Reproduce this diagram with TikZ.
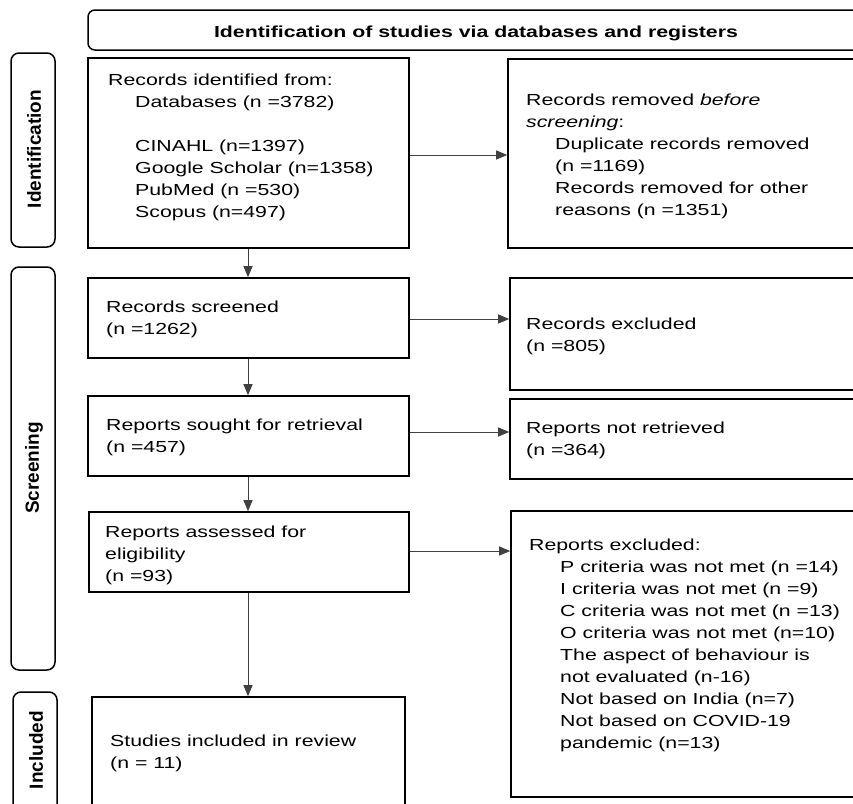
\documentclass[tikz,border=0pt]{standalone}
\usepackage{fontspec}
\setmainfont{Liberation Sans}[FakeStretch=1.33]
\newfontfamily\sidefont{Liberation Sans}
\usetikzlibrary{arrows.meta,fit}
\begin{document}
\begin{tikzpicture}[x=1pt,y=-1pt,
  box/.style={draw=black, line width=1.6pt, rectangle, inner sep=0pt},
  lab/.style={draw=black, line width=1.5pt, rounded corners=8pt, inner sep=0pt},
  txt/.style={anchor=base west, align=left, inner sep=0pt, font=\fontsize{16}{22}\selectfont},
  sidetxt/.style={rotate=90, inner sep=0pt, font=\sidefont\bfseries\fontsize{19}{22}\selectfont},
  arr/.style={draw=black!75, line width=1pt, -{Triangle[length=11pt,width=9pt]}}]
\useasboundingbox (0,0) rectangle (853,803);
\clip (0,0) rectangle (853,803);
% header
\node[lab, rounded corners=7pt, fit={(88,10) (880,50)}] (hdr) {};
\node[anchor=base, inner sep=0pt, font=\bfseries\fontsize{16}{20}\selectfont] (hdrt) at (476,37.5) {Identification of studies via databases and registers};
% side labels
\node[lab, fit={(11,53) (55,247)}] (idl) {};
\node[sidetxt] (idt) at (34,149) {Identification};
\node[lab, fit={(11,267) (55,670)}] (scl) {};
\node[sidetxt] (sct) at (34,468) {Screening};
\node[lab, fit={(13,692) (57,830)}] (inl) {};
\node[sidetxt] (int) at (36,750) {Included};
% boxes
\node[box, fit={(88,58) (409,248)}] (b1) {};
\node[box, fit={(508,59) (880,248)}] (b2) {};
\node[box, fit={(88,278) (409,358)}] (b3) {};
\node[box, fit={(510,278) (880,390)}] (b4) {};
\node[box, fit={(88,396) (409,476)}] (b5) {};
\node[box, fit={(510,399) (880,479)}] (b6) {};
\node[box, fit={(89,512) (409,592)}] (b7) {};
\node[box, fit={(511,511) (880,797)}] (b8) {};
\node[box, fit={(92,697) (405,830)}] (b9) {};
% texts (anchored at the baseline of the last line)
\node[txt] (t1) at (108,217) {Records identified from:\\
\hspace*{27pt}Databases (n =3782)\\[22pt]
\hspace*{27pt}CINAHL (n=1397)\\
\hspace*{27pt}Google Scholar (n=1358)\\
\hspace*{27pt}PubMed (n =530)\\
\hspace*{27pt}Scopus (n=497)};
\node[txt] (t2) at (526,215) {Records removed \textit{before}\\
\textit{screening}:\\
\hspace*{29pt}Duplicate records removed\\
\hspace*{29pt}(n =1169)\\
\hspace*{29pt}Records removed for other\\
\hspace*{29pt}reasons (n =1351)};
\node[txt] (t3) at (106,334) {Records screened\\(n =1262)};
\node[txt] (t4) at (526,351) {Records excluded\\(n =805)};
\node[txt] (t5) at (106,452) {Reports sought for retrieval\\(n =457)};
\node[txt] (t6) at (526,455) {Reports not retrieved\\(n =364)};
\node[txt] (t7) at (105,581) {Reports assessed for\\eligibility\\(n =93)};
\node[txt] (t8) at (529,748) {Reports excluded:\\
\hspace*{31pt}P criteria was not met (n =14)\\
\hspace*{31pt}I criteria was not met (n =9)\\
\hspace*{31pt}C criteria was not met (n =13)\\
\hspace*{31pt}O criteria was not met (n=10)\\
\hspace*{31pt}The aspect of behaviour is\\
\hspace*{31pt}not evaluated (n-16)\\
\hspace*{31pt}Not based on India (n=7)\\
\hspace*{31pt}Not based on COVID-19\\
\hspace*{31pt}pandemic (n=13)};
\node[txt] (t9) at (110,768) {Studies included in review\\(n = 11)};
% connectors
\coordinate (vx) at (248,0);
\coordinate (h1) at (0,155);
\coordinate (h2) at (0,319);
\coordinate (h3) at (0,432);
\coordinate (h4) at (0,551);
\draw[arr] (b1.south -| vx) -- (b3.north -| vx);
\draw[arr] (b3.south -| vx) -- (b5.north -| vx);
\draw[arr] (b5.south -| vx) -- (b7.north -| vx);
\draw[arr] (b7.south -| vx) -- (b9.north -| vx);
\draw[arr] (b1.east |- h1) -- (b2.west |- h1);
\draw[arr] (b3.east |- h2) -- (b4.west |- h2);
\draw[arr] (b5.east |- h3) -- (b6.west |- h3);
\draw[arr] (b7.east |- h4) -- (b8.west |- h4);
\end{tikzpicture}
\end{document}
